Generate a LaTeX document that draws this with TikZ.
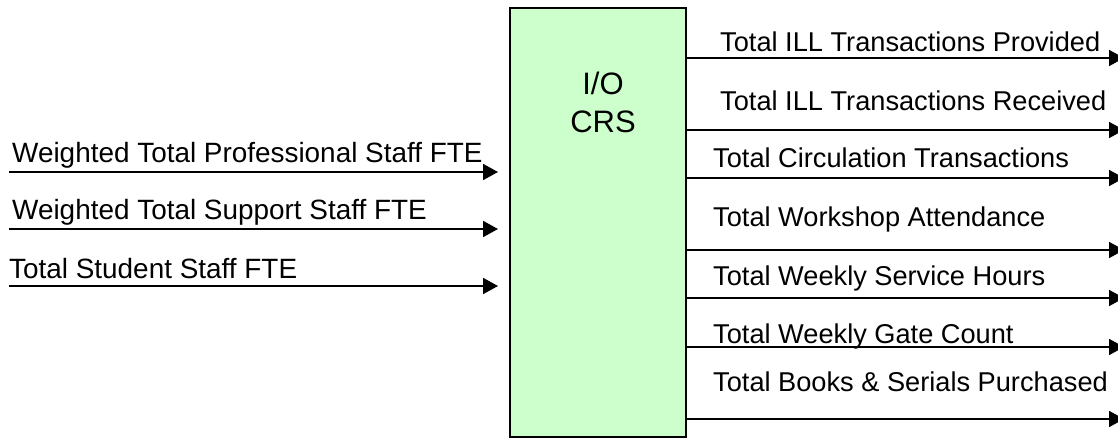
\documentclass[tikz,border=0pt]{standalone}
\usepackage{fontspec}
\setmainfont{Liberation Sans}
\usetikzlibrary{arrows.meta}
\begin{document}
\begin{tikzpicture}[x=1pt,y=-1pt,
  lbl/.style={anchor=base west,inner sep=0pt,font=\fontsize{27.9}{32}\selectfont},
  rlbl/.style={anchor=base west,inner sep=0pt,font=\fontsize{27.2}{32}\selectfont},
  boxtext/.style={anchor=base,inner sep=0pt,font=\fontsize{31}{37}\selectfont},
  arr/.style={line width=1.8pt,-{Triangle[length=15pt,width=16pt]}},
  box/.style={draw=black,line width=1.6pt,fill=boxgreen,minimum width=176pt,minimum height=429pt,inner sep=0pt}
]
\definecolor{boxgreen}{HTML}{CCFFCC}
\clip (0,0) rectangle (1118,438);
% box
\node[box] (crs) at (598,222.5) {};
\node[boxtext] (io) at (603,95) {I/O};
\node[boxtext] (crsname) at (603,133) {CRS};
% left inputs
\node[lbl] (t1) at (12,163) {Weighted Total Professional Staff FTE};
\node[lbl] (t2) at (12,220) {Weighted Total Support Staff FTE};
\node[lbl] (t3) at (9,278) {Total Student Staff FTE};
\coordinate (a1) at (9,172);
\coordinate (b1) at (498,172);
\coordinate (a2) at (9,229);
\coordinate (b2) at (498,229);
\coordinate (a3) at (9,286);
\coordinate (b3) at (498,286);
\draw[arr] (a1) -- (b1);
\draw[arr] (a2) -- (b2);
\draw[arr] (a3) -- (b3);
% right outputs
\node[rlbl] (o1) at (720,52) {Total ILL Transactions Provided};
\node[rlbl] (o2) at (720,111) {Total ILL Transactions Received};
\node[rlbl] (o3) at (713,168) {Total Circulation Transactions};
\node[rlbl] (o4) at (713,227) {Total Workshop Attendance};
\node[rlbl] (o5) at (713,285) {Total Weekly Service Hours};
\node[rlbl] (o6) at (713,343) {Total Weekly Gate Count};
\node[rlbl] (o7) at (713,391) {Total Books \& Serials Purchased};
\foreach \i/\y in {1/58,2/130,3/178,4/250,5/298,6/347,7/419}{
  \coordinate (e\i) at (1124,\y);
  \draw[arr] (crs.east |- e\i) -- (e\i);
}
\end{tikzpicture}
\end{document}
